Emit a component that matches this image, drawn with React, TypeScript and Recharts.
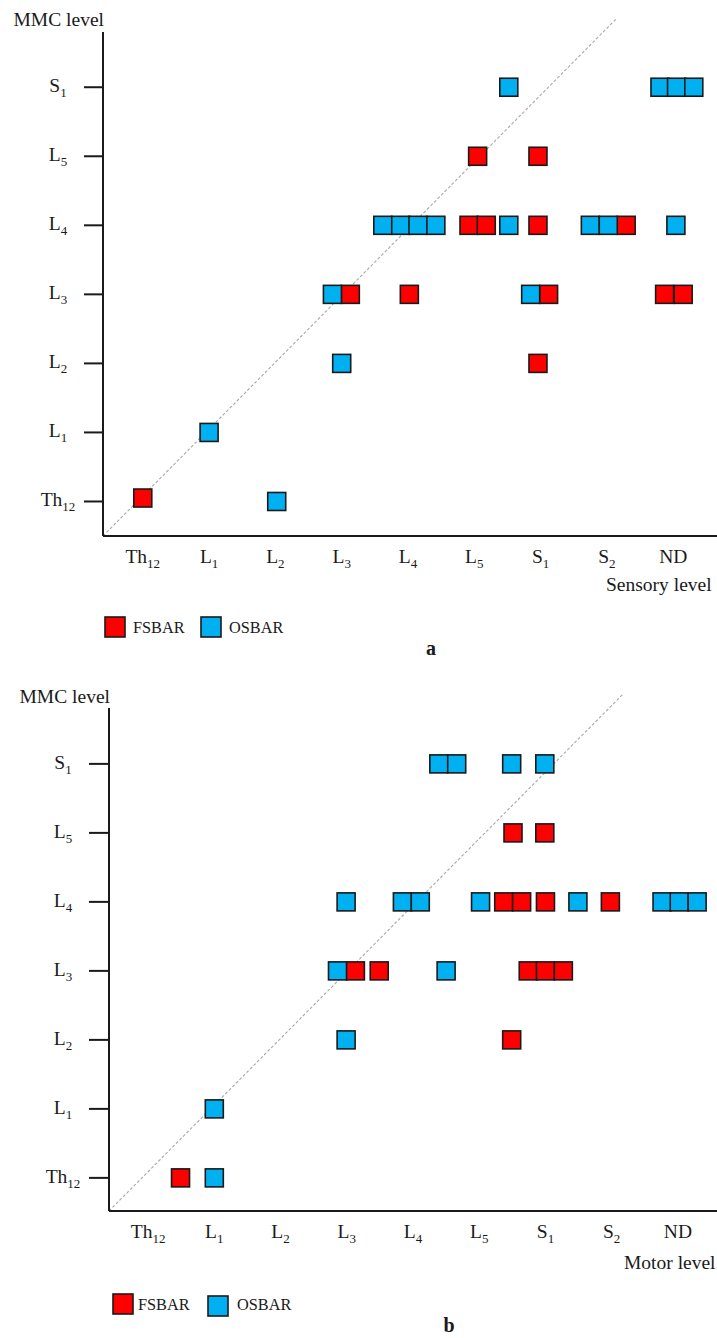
import React from 'react';
import { ScatterChart, Scatter, XAxis, YAxis, ReferenceLine, Legend } from 'recharts';

const FONT = '"Liberation Serif", "Times New Roman", serif';
const INK = '#1a1a1a';
const RED = '#ff0000';
const BLUE = '#00b0f0';

// Tick labels ("_" marks the subscript part)
const xTickLabels = ['Th_12', 'L_1', 'L_2', 'L_3', 'L_4', 'L_5', 'S_1', 'S_2', 'ND'];
const yTickLabels = ['Th_12', 'L_1', 'L_2', 'L_3', 'L_4', 'L_5', 'S_1'];
const xTickValues = [0, 1, 2, 3, 4, 5, 6, 7, 8];
const yTickValues = [0, 1, 2, 3, 4, 5, 6];

// Panel a: Sensory level (x) vs MMC level (y)
const sensoryFsbar = [
  { x: 5.05, y: 5 }, { x: 5.96, y: 5 },
  { x: 4.92, y: 4 }, { x: 5.18, y: 4 }, { x: 5.96, y: 4 }, { x: 7.29, y: 4 },
  { x: 3.13, y: 3 }, { x: 4.02, y: 3 }, { x: 6.12, y: 3 }, { x: 7.87, y: 3 }, { x: 8.15, y: 3 },
  { x: 5.96, y: 2 },
  { x: 0.0, y: 0.05 },
];
const sensoryOsbar = [
  { x: 5.52, y: 6 }, { x: 7.8, y: 6 }, { x: 8.05, y: 6 }, { x: 8.31, y: 6 },
  { x: 3.62, y: 4 }, { x: 3.89, y: 4 }, { x: 4.15, y: 4 }, { x: 4.42, y: 4 },
  { x: 5.52, y: 4 }, { x: 6.75, y: 4 }, { x: 7.02, y: 4 }, { x: 8.04, y: 4 },
  { x: 2.86, y: 3 }, { x: 5.85, y: 3 },
  { x: 3.0, y: 2 },
  { x: 1.0, y: 1 },
  { x: 2.02, y: 0 },
];

// Panel b: Motor level (x) vs MMC level (y)
const motorFsbar = [
  { x: 5.51, y: 5 }, { x: 5.99, y: 5 },
  { x: 5.37, y: 4 }, { x: 5.64, y: 4 }, { x: 6.0, y: 4 }, { x: 6.98, y: 4 },
  { x: 3.13, y: 3 }, { x: 3.49, y: 3 }, { x: 5.74, y: 3 }, { x: 6.0, y: 3 }, { x: 6.27, y: 3 },
  { x: 5.49, y: 2 },
  { x: 0.49, y: 0 },
];
const motorOsbar = [
  { x: 4.39, y: 6 }, { x: 4.66, y: 6 }, { x: 5.49, y: 6 }, { x: 5.99, y: 6 },
  { x: 2.99, y: 4 }, { x: 3.84, y: 4 }, { x: 4.11, y: 4 }, { x: 5.02, y: 4 },
  { x: 6.49, y: 4 }, { x: 7.76, y: 4 }, { x: 8.02, y: 4 }, { x: 8.29, y: 4 },
  { x: 2.86, y: 3 }, { x: 4.5, y: 3 },
  { x: 2.99, y: 2 },
  { x: 1.0, y: 1 },
  { x: 1.0, y: 0 },
];

const seriesNames = ['FSBAR', 'OSBAR'];

const panelA = {
  height: 660,
  plotTop: 32,
  yAxisWidth: 103,
  yTickSize: 19,
  xAxisHeight: 124,
  xDomain: [-0.6, 8.66],
  yDomain: [-0.5, 6.8],
  diag: [{ x: -0.6, y: -0.5 }, { x: 7.15, y: 7.0 }],
  xTitle: 'Sensory level',
  xTitleFromRight: 111,
  xTitleDy: 55,
  yTitleDy: -6,
  legendTop: 600,
  legendSq: 20,
  legendItems: [
    { sx: 105, sy: 17, tx: 133 },
    { sx: 201, sy: 17, tx: 229 },
  ],
  legendBaseline: 33,
  panelLabel: 'a',
  panelLabelX: 431,
  panelLabelY: 55,
};

const panelB = {
  height: 678,
  plotTop: 48,
  yAxisWidth: 109,
  yTickSize: 20,
  xAxisHeight: 127,
  xDomain: [-0.59, 8.59],
  yDomain: [-0.48, 6.81],
  diag: [{ x: -0.59, y: -0.48 }, { x: 7.17, y: 7.01 }],
  xTitle: 'Motor level',
  xTitleFromRight: 93,
  xTitleDy: 58,
  yTitleDy: -5,
  legendTop: 620,
  legendSq: 20,
  legendItems: [
    { sx: 113, sy: 14, tx: 138 },
    { sx: 208, sy: 16, tx: 237 },
  ],
  legendBaseline: 30,
  panelLabel: 'b',
  panelLabelX: 449,
  panelLabelY: 52,
};

const LevelText = ({ x, y, label, anchor }: any) => {
  const [main, sub] = String(label).split('_');
  return (
    <text x={x} y={y} textAnchor={anchor} fontFamily={FONT} fontSize={19.5} fill={INK}>
      <tspan>{main}</tspan>
      {sub ? (
        <tspan fontSize={13} dy={5}>
          {sub}
        </tspan>
      ) : null}
    </text>
  );
};

const XTick = (props: any) => {
  const { x, y, payload } = props;
  const idx = Math.round(Number(payload?.value));
  return <LevelText x={x} y={y + 27} label={xTickLabels[idx] ?? ''} anchor="middle" />;
};

const YTick = (props: any) => {
  const { x, y, payload } = props;
  const idx = Math.round(Number(payload?.value));
  return <LevelText x={x - 26} y={y + 5} label={yTickLabels[idx] ?? ''} anchor="middle" />;
};

const makeSquare = (color: string) => (props: any) => {
  const { cx, cy } = props;
  if (cx == null || cy == null) return <g />;
  return (
    <rect x={cx - 9} y={cy - 9} width={18} height={18} fill={color} stroke={INK} strokeWidth={1.6} />
  );
};

const makeLegend = (cfg: any) => (props: any) => {
  const payload = props?.payload && props.payload.length ? props.payload : [
    { value: seriesNames[0], color: RED },
    { value: seriesNames[1], color: BLUE },
  ];
  return (
    <svg width={717} height={70} style={{ display: 'block', overflow: 'visible' }}>
      {payload.map((item: any, i: number) => {
        const pos = cfg.legendItems[i] || cfg.legendItems[0];
        return (
          <g key={i}>
            <rect
              x={pos.sx}
              y={pos.sy}
              width={cfg.legendSq}
              height={cfg.legendSq}
              fill={item.color}
              stroke={INK}
              strokeWidth={1.6}
            />
            <text x={pos.tx} y={cfg.legendBaseline} fontFamily={FONT} fontSize={16.3} fill={INK}>
              {item.value}
            </text>
          </g>
        );
      })}
      <text
        x={cfg.panelLabelX}
        y={cfg.panelLabelY}
        textAnchor="middle"
        fontFamily={FONT}
        fontWeight="bold"
        fontSize={20}
        fill={INK}
      >
        {cfg.panelLabel}
      </text>
    </svg>
  );
};

const Panel = ({ cfg, fsbar, osbar }: any) => (
  <ScatterChart
    width={717}
    height={cfg.height}
    margin={{ top: cfg.plotTop, right: 0, bottom: 0, left: 0 }}
  >
    <XAxis
      type="number"
      dataKey="x"
      domain={cfg.xDomain}
      ticks={xTickValues}
      interval={0}
      allowDataOverflow
      height={cfg.xAxisHeight}
      tickSize={0}
      tickMargin={0}
      tickLine={false}
      axisLine={{ stroke: INK, strokeWidth: 2 }}
      tick={(p: any) => <XTick {...p} />}
      label={{
        content: (p: any) => {
          const vb = p.viewBox || {};
          return (
            <text
              x={vb.x + vb.width - cfg.xTitleFromRight}
              y={vb.y + cfg.xTitleDy}
              textAnchor="start"
              fontFamily={FONT}
              fontSize={19.5}
              fill={INK}
            >
              {cfg.xTitle}
            </text>
          );
        },
      }}
    />
    <YAxis
      type="number"
      dataKey="y"
      domain={cfg.yDomain}
      ticks={yTickValues}
      interval={0}
      allowDataOverflow
      width={cfg.yAxisWidth}
      tickSize={cfg.yTickSize}
      tickMargin={0}
      tickLine={{ stroke: INK, strokeWidth: 2 }}
      axisLine={{ stroke: INK, strokeWidth: 2 }}
      tick={(p: any) => <YTick {...p} />}
      label={{
        content: (p: any) => {
          const vb = p.viewBox || {};
          return (
            <text
              x={vb.x + vb.width + 1}
              y={vb.y + cfg.yTitleDy}
              textAnchor="end"
              fontFamily={FONT}
              fontSize={19.5}
              fill={INK}
            >
              MMC level
            </text>
          );
        },
      }}
    />
    <Scatter
      name={seriesNames[0]}
      data={fsbar}
      fill={RED}
      legendType="square"
      isAnimationActive={false}
      shape={makeSquare(RED)}
    />
    <Scatter
      name={seriesNames[1]}
      data={osbar}
      fill={BLUE}
      legendType="square"
      isAnimationActive={false}
      shape={makeSquare(BLUE)}
    />
    <ReferenceLine
      segment={cfg.diag}
      stroke="#a8a8a8"
      strokeWidth={1.1}
      strokeDasharray="3 2"
      ifOverflow="visible"
    />
    <Legend
      layout="horizontal"
      verticalAlign="middle"
      align="center"
      content={makeLegend(cfg)}
      wrapperStyle={{ left: 0, top: cfg.legendTop, width: 717, height: 70 }}
    />
  </ScatterChart>
);

export default function App() {
  return (
    <div
      style={{
        position: 'absolute',
        left: 0,
        top: 0,
        width: 717,
        height: 1338,
        background: '#ffffff',
        overflow: 'hidden',
      }}
    >
      <div style={{ position: 'relative', width: 717, height: panelA.height }}>
        <Panel cfg={panelA} fsbar={sensoryFsbar} osbar={sensoryOsbar} />
      </div>
      <div style={{ position: 'relative', width: 717, height: panelB.height }}>
        <Panel cfg={panelB} fsbar={motorFsbar} osbar={motorOsbar} />
      </div>
    </div>
  );
}
